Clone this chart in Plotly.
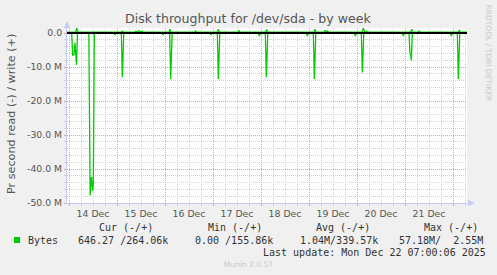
import plotly.graph_objects as go

# ---------------- data (values in millions of bytes per second) ----------------
read_time = [
    "2025-12-13 23:00", "2025-12-14 01:20", "2025-12-14 01:50", "2025-12-14 02:30",
    "2025-12-14 03:00", "2025-12-14 03:45", "2025-12-14 04:15",
    "2025-12-14 09:55", "2025-12-14 10:35", "2025-12-14 11:15", "2025-12-14 11:50",
    "2025-12-14 12:10", "2025-12-14 12:40",
    "2025-12-14 22:30", "2025-12-14 23:00", "2025-12-14 23:30",
    "2025-12-15 02:10", "2025-12-15 02:40", "2025-12-15 03:10", "2025-12-15 03:25",
    "2025-12-15 22:30", "2025-12-15 23:00", "2025-12-15 23:30",
    "2025-12-16 02:20", "2025-12-16 02:50", "2025-12-16 03:20", "2025-12-16 03:35",
    "2025-12-16 22:30", "2025-12-16 23:00", "2025-12-16 23:30",
    "2025-12-17 02:10", "2025-12-17 02:40", "2025-12-17 03:10", "2025-12-17 03:25",
    "2025-12-17 22:40", "2025-12-17 23:10", "2025-12-17 23:40",
    "2025-12-18 02:10", "2025-12-18 02:40", "2025-12-18 03:10", "2025-12-18 03:25",
    "2025-12-18 22:40", "2025-12-18 23:10", "2025-12-18 23:40",
    "2025-12-19 02:10", "2025-12-19 02:40", "2025-12-19 03:10", "2025-12-19 03:25",
    "2025-12-19 22:40", "2025-12-19 23:10", "2025-12-19 23:40",
    "2025-12-20 02:10", "2025-12-20 02:40", "2025-12-20 03:10", "2025-12-20 03:25",
    "2025-12-20 22:40", "2025-12-20 23:10", "2025-12-20 23:40",
    "2025-12-21 02:00", "2025-12-21 02:30", "2025-12-21 02:50", "2025-12-21 03:10",
    "2025-12-21 03:40",
    "2025-12-21 22:40", "2025-12-21 23:10", "2025-12-21 23:40",
    "2025-12-22 02:10", "2025-12-22 02:40", "2025-12-22 03:10", "2025-12-22 03:25",
    "2025-12-22 07:00",
]
read_mb = [
    0, 0, 6.5, 6.4,
    2.9, 9.4, 0,
    0, 47.8, 42.4, 46.4,
    44.0, 0,
    0, 0.6, 0,
    0, 13.0, 4.0, 0,
    0, 0.6, 0,
    0, 13.5, 4.0, 0,
    0, 0.6, 0,
    0, 13.5, 4.0, 0,
    0, 0.9, 0,
    0, 13.0, 4.0, 0,
    0, 0.9, 0,
    0, 13.5, 4.0, 0,
    0, 0.9, 0,
    0, 11.6, 3.5, 0,
    0, 0.9, 0,
    0, 6.0, 6.5, 8.1,
    0,
    0, 0.9, 0,
    0, 13.5, 4.0, 0,
    0,
]

write_time = [
    "2025-12-13 23:00", "2025-12-14 03:20", "2025-12-14 03:50", "2025-12-14 04:20",
    "2025-12-15 02:10", "2025-12-15 02:40", "2025-12-15 03:10",
    "2025-12-15 08:45", "2025-12-15 09:30", "2025-12-15 10:15", "2025-12-15 11:00",
    "2025-12-15 11:45", "2025-12-15 12:30", "2025-12-15 13:15",
    "2025-12-16 02:00", "2025-12-16 02:30", "2025-12-16 03:00",
    "2025-12-16 14:50", "2025-12-16 15:20", "2025-12-16 15:50",
    "2025-12-17 02:10", "2025-12-17 02:40", "2025-12-17 03:10",
    "2025-12-17 12:30", "2025-12-17 13:00", "2025-12-17 13:30",
    "2025-12-18 02:20", "2025-12-18 02:50", "2025-12-18 03:20",
    "2025-12-19 02:30", "2025-12-19 03:00", "2025-12-19 03:30",
    "2025-12-19 07:30", "2025-12-19 08:00", "2025-12-19 08:30", "2025-12-19 09:10",
    "2025-12-19 09:40",
    "2025-12-20 02:40", "2025-12-20 03:10", "2025-12-20 03:50", "2025-12-20 04:50",
    "2025-12-20 05:20",
    "2025-12-21 02:50", "2025-12-21 03:20", "2025-12-21 03:50",
    "2025-12-21 06:40", "2025-12-21 07:10", "2025-12-21 07:40",
    "2025-12-22 02:40", "2025-12-22 03:10", "2025-12-22 03:40",
    "2025-12-22 07:00",
]
write_mb = [
    0.25, 0.25, 1.4, 0.25,
    0.25, 0.6, 0.25,
    0.25, 0.5, 0.3, 0.7,
    0.3, 0.5, 0.25,
    0.25, 1.1, 0.25,
    0.25, 0.6, 0.25,
    0.25, 1.1, 0.25,
    0.25, 0.7, 0.25,
    0.25, 1.0, 0.25,
    0.25, 1.1, 0.25,
    0.25, 0.7, 0.3, 0.6,
    0.25,
    0.25, 1.4, 0.3, 0.5,
    0.25,
    0.25, 1.1, 0.25,
    0.25, 0.6, 0.25,
    0.25, 0.9, 0.25,
    0.25,
]

y_tickvals = [0, -10, -20, -30, -40, -50]
y_ticktext = ["0.0", "-10.0 M", "-20.0 M", "-30.0 M", "-40.0 M", "-50.0 M"]

legend_headers = ["Cur (-/+)", "Min (-/+)", "Avg (-/+)", "Max (-/+)"]
legend_values = ["646.27 /264.06k", "0.00 /155.86k", "1.04M/339.57k", "57.18M/  2.55M"]
series_name = "Bytes"
last_update = "Last update: Mon Dec 22 07:00:06 2025"

# ---------------- layout geometry (pixels) ----------------
W, H = 497, 275
PL, PR, PT, PB = 67, 467, 28, 203


def px(x):
    return (x - PL) / (PR - PL)


def py(y):
    return (PB - y) / (PB - PT)


GREEN = "#00CC00"
AXIS = "#C4C8F4"
MAJOR = "#EC9A9A"
MINOR = "#D2D2D2"
TXT = "#555555"
MONO = "DejaVu Sans Mono"
SANS = "DejaVu Sans"

fig = go.Figure()
fig.add_trace(go.Scatter(x=read_time, y=[-v for v in read_mb], mode="lines",
                         line=dict(color=GREEN, width=1.3), showlegend=False,
                         hoverinfo="skip"))
fig.add_trace(go.Scatter(x=write_time, y=write_mb, mode="lines",
                         line=dict(color=GREEN, width=1.3), showlegend=False,
                         hoverinfo="skip"))

fig.update_layout(
    width=W, height=H, autosize=False,
    margin=dict(l=PL, r=W - PR, t=PT, b=H - PB, pad=0),
    paper_bgcolor="#F0F0F0", plot_bgcolor="#FFFFFF",
    font=dict(family=SANS, color=TXT),
    showlegend=False,
)

fig.update_xaxes(
    type="date",
    range=["2025-12-13 23:00", "2025-12-22 07:00"],
    tick0="2025-12-14", dtick=86400000,
    tickformat="%d %b", ticklabelmode="period",
    showgrid=True, gridcolor=MAJOR, griddash="1px,1px", gridwidth=1,
    ticks="outside", ticklen=2, tickcolor=MAJOR,
    tickfont=dict(family=SANS, size=9.3, color=TXT),
    showline=True, linecolor=AXIS, linewidth=1,
    zeroline=False,
    minor=dict(dtick=6 * 3600 * 1000, tick0="2025-12-14", showgrid=True,
               gridcolor=MINOR, griddash="1px,1px", ticks="outside", ticklen=2,
               tickcolor=MINOR),
)

fig.update_yaxes(
    range=[-50, 1.47],
    tickmode="array", tickvals=y_tickvals, ticktext=y_ticktext,
    showgrid=True, gridcolor=MAJOR, griddash="1px,1px", gridwidth=1,
    ticks="outside", ticklen=2, tickcolor=MAJOR,
    tickfont=dict(family=SANS, size=9.3, color=TXT),
    showline=True, linecolor=AXIS, linewidth=1,
    zeroline=False,
    minor=dict(tickmode="linear", tick0=0, dtick=2, showgrid=True,
               gridcolor=MINOR, griddash="1px,1px", ticks="outside", ticklen=2,
               tickcolor=MINOR),
)

shapes = []
# zero rule
shapes.append(dict(type="line", xref="paper", yref="y", x0=0, x1=1, y0=0, y1=0,
                   line=dict(color="#000000", width=1.8), layer="above"))
# axis arrows
shapes.append(dict(type="path", xref="paper", yref="paper",
                   path=f"M {px(64)} {py(28)} L {px(70)} {py(28)} L {px(67)} {py(21)} Z",
                   fillcolor=AXIS, line=dict(width=0), layer="above"))
shapes.append(dict(type="path", xref="paper", yref="paper",
                   path=f"M {px(468)} {py(200)} L {px(468)} {py(206)} L {px(475)} {py(203)} Z",
                   fillcolor=AXIS, line=dict(width=0), layer="above"))
# legend colour box
shapes.append(dict(type="rect", xref="paper", yref="paper",
                   x0=px(14), x1=px(20), y0=py(243), y1=py(237),
                   fillcolor=GREEN, line=dict(width=0)))
fig.update_layout(shapes=shapes)

ann = []
ann.append(dict(text="Disk throughput for /dev/sda - by week", x=px(248.5), y=py(18.5),
                xanchor="center", yanchor="middle",
                font=dict(family=SANS, size=12.6, color=TXT)))
ann.append(dict(text="Pr second read (-) / write (+)", x=px(11), y=py(114),
                xanchor="center", yanchor="middle", textangle=-90,
                font=dict(family=SANS, size=11.2, color=TXT)))
ann.append(dict(text="RRDTOOL / TOBI OETIKER", x=px(488.5), y=py(53),
                xanchor="center", yanchor="middle", textangle=90,
                font=dict(family=SANS, size=7.5, color="#C8C8C8")))
header_x = [98.3, 206.7, 315, 422.7]
for t, x in zip(legend_headers, header_x):
    ann.append(dict(text=t.replace(" ", "&nbsp;"), x=px(x - 1), y=py(227), xanchor="left",
                    yanchor="middle", font=dict(family=MONO, size=10, color="#333333")))
ann.append(dict(text=series_name, x=px(26.7 - 1), y=py(240), xanchor="left",
                yanchor="middle", font=dict(family=MONO, size=10, color="#333333")))
value_x = [77.3, 194.3, 299.3, 397.7]
for t, x in zip(legend_values, value_x):
    ann.append(dict(text=t.replace(" ", "&nbsp;"), x=px(x - 1), y=py(240), xanchor="left",
                    yanchor="middle", font=dict(family=MONO, size=10, color="#333333")))
ann.append(dict(text=last_update.replace(" ", "&nbsp;"), x=px(261.7 - 1), y=py(252),
                xanchor="left", yanchor="middle",
                font=dict(family=MONO, size=10, color="#333333")))
ann.append(dict(text="Munin 2.0.57", x=px(248), y=py(264), xanchor="center",
                yanchor="middle", font=dict(family=SANS, size=7.5, color="#C8C8C8")))
for a in ann:
    a.update(xref="paper", yref="paper", showarrow=False)
fig.update_layout(annotations=ann)

fig.write_html("out.html")
